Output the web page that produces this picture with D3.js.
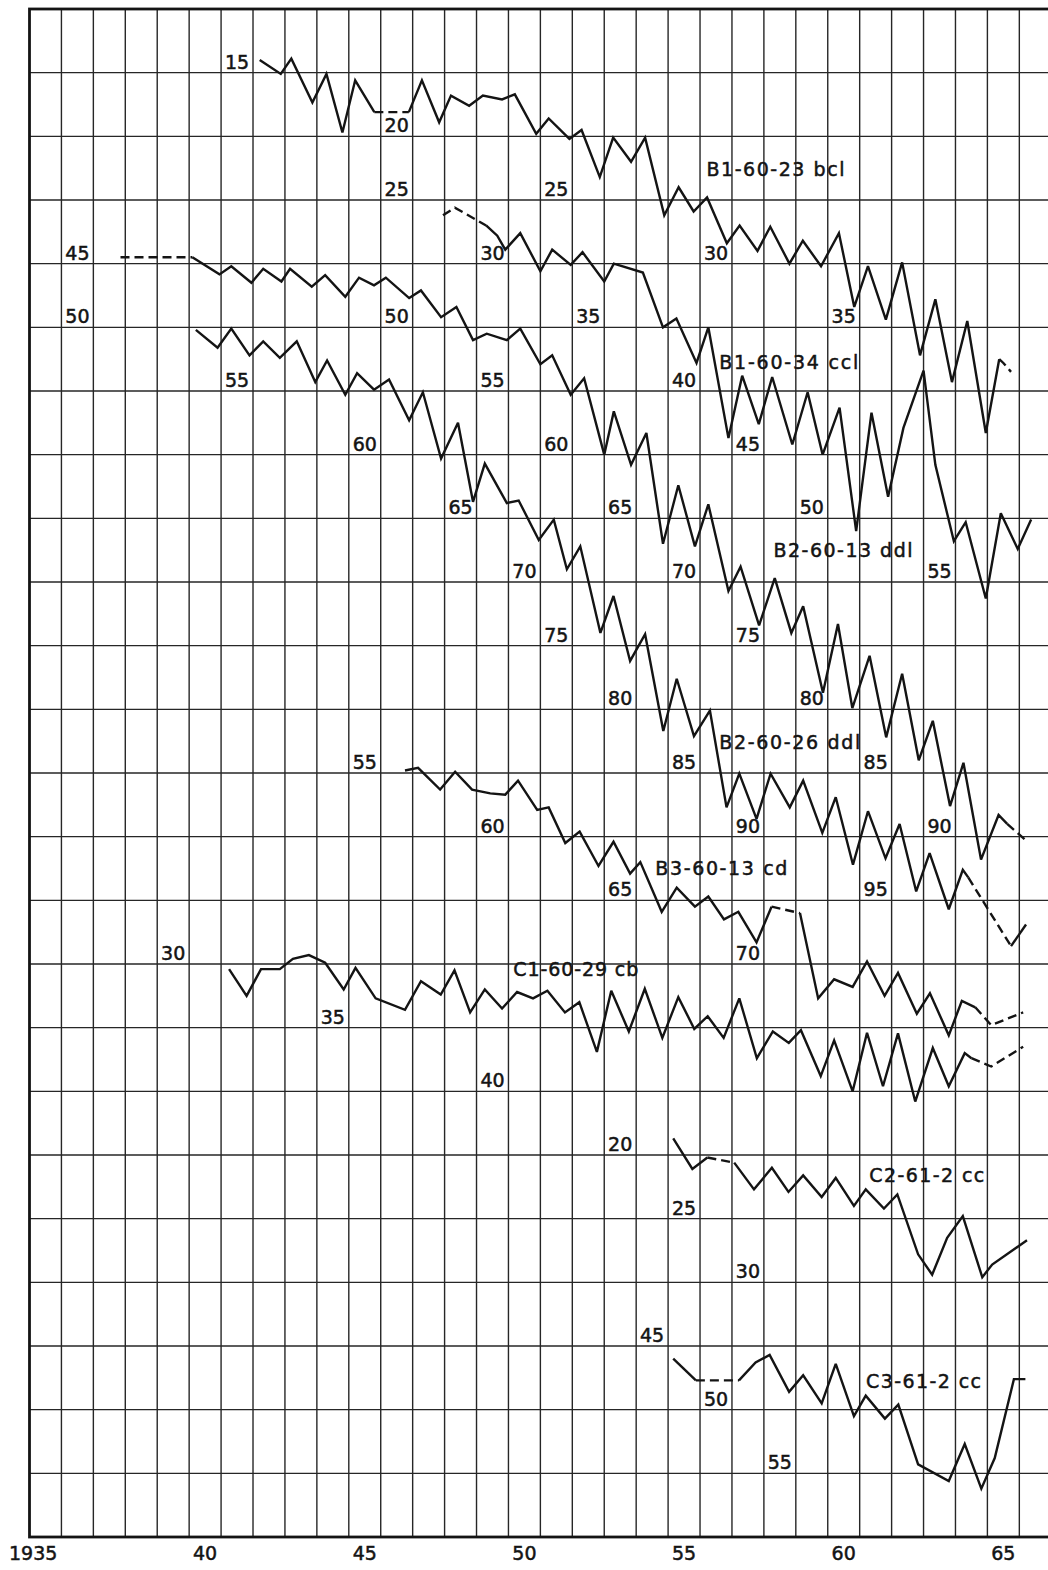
<!DOCTYPE html>
<html><head><meta charset="utf-8">
<script src="https://cdn.jsdelivr.net/npm/d3@7"></script>
<style>html,body{margin:0;padding:0;background:#fff}</style>
</head><body>
<script>
// ---------- DATA ----------
const yearStart = 1935, yearEnd = 1967;
const axisLabels = [[1935,"1935"],[1940,"40"],[1945,"45"],[1950,"50"],[1955,"55"],[1960,"60"],[1965,"65"]];
const seriesNames = ["B1-60-23 bcl","B1-60-34 ccl","B2-60-13 ddl","B2-60-26 ddl","B3-60-13 cd","C1-60-29 cb","C2-61-2 cc","C3-61-2 cc"];
// value shown at the top edge of the grid for each series (each grid row = 5 units)
const seriesTop = [10,10,25,25,-5,-45,-70,-60];

const sA = [[1942.21,14.0],[1942.87,15.1],[1943.2,13.9],[1943.86,17.35],[1944.3,15.1],[1944.8,19.7],[1945.2,15.6],[1945.8,18.1],[1946.88,18.1],[1947.29,15.6],[1947.83,18.9],[1948.2,16.8],[1948.77,17.6],[1949.2,16.8],[1949.8,17.1],[1950.2,16.7],[1950.87,19.8],[1951.26,18.6],[1951.91,20.2],[1952.29,19.5],[1952.86,23.2],[1953.28,20.1],[1953.84,22.0],[1954.28,20.1],[1954.88,26.2],[1955.33,24.0],[1955.8,25.9],[1956.22,24.8],[1956.84,28.4],[1957.24,27.0],[1957.8,29.0],[1958.2,27.1],[1958.8,30.0],[1959.22,28.2],[1959.79,30.2],[1960.35,27.6],[1960.83,33.4],[1961.26,30.2],[1961.82,34.4],[1962.33,29.9],[1962.89,37.2],[1963.37,32.8],[1963.89,39.3],[1964.37,34.5],[1964.95,43.3],[1965.37,37.5],[1965.5,37.8],[1965.74,38.5]];
const sB = [[1947.95,26.2],[1948.32,25.6],[1949.3,27.0],[1949.65,27.8],[1949.9,28.9],[1950.37,27.6],[1951.0,30.6],[1951.37,28.9],[1951.95,30.1],[1952.32,29.1],[1953.0,31.4],[1953.3,30.0],[1954.21,30.7],[1954.84,35.0],[1955.26,34.3],[1955.89,37.8],[1956.26,35.0],[1956.89,43.7],[1957.32,38.8],[1957.84,42.6],[1958.26,38.9],[1958.89,44.2],[1959.37,40.1],[1959.84,45.0],[1960.37,41.3],[1960.89,51.0],[1961.37,41.7],[1961.89,48.3],[1962.37,42.9],[1963.0,38.4],[1963.37,45.8],[1963.95,51.8],[1964.32,50.3],[1964.95,56.3],[1965.42,49.6],[1965.95,52.4],[1966.37,50.1]];
const sC = [[1937.85,44.5],[1940.1,44.5],[1940.95,45.84],[1941.32,45.2],[1941.95,46.5],[1942.32,45.4],[1942.89,46.4],[1943.16,45.4],[1943.84,46.8],[1944.26,45.9],[1944.89,47.6],[1945.32,46.1],[1945.79,46.7],[1946.16,46.1],[1946.89,47.7],[1947.26,47.1],[1947.89,49.2],[1948.37,48.4],[1948.89,51.0],[1949.32,50.5],[1949.95,51.0],[1950.37,50.1],[1951.0,52.9],[1951.37,52.2],[1951.95,55.3],[1952.37,54.0],[1953.0,60.0],[1953.3,56.6],[1953.84,60.8],[1954.32,58.3],[1954.84,67.0],[1955.32,62.4],[1955.84,67.2],[1956.26,63.9],[1956.89,70.7],[1957.27,68.8],[1957.85,73.4],[1958.34,69.7],[1958.86,74.0],[1959.23,71.9],[1959.85,78.7],[1960.32,73.3],[1960.77,79.9],[1961.31,75.8],[1961.83,82.2],[1962.33,77.2],[1962.85,84.0],[1963.29,80.9],[1963.83,87.6],[1964.25,84.2],[1964.8,91.8],[1965.35,88.3],[1965.62,89.0],[1966.21,90.3]];
const sD = [[1940.21,50.2],[1940.89,51.6],[1941.32,50.1],[1941.89,52.2],[1942.32,51.1],[1942.84,52.4],[1943.37,51.1],[1943.95,54.3],[1944.32,52.6],[1944.89,55.3],[1945.26,53.6],[1945.79,54.9],[1946.26,54.1],[1946.89,57.3],[1947.32,55.1],[1947.89,60.3],[1948.42,57.5],[1948.89,63.7],[1949.26,60.7],[1949.95,63.8],[1950.32,63.6],[1950.95,66.7],[1951.42,65.1],[1951.83,69.0],[1952.25,67.2],[1952.88,74.0],[1953.29,71.1],[1953.81,76.2],[1954.28,74.1],[1954.85,81.7],[1955.27,77.6],[1955.81,82.1],[1956.31,80.1],[1956.83,87.7],[1957.23,85.05],[1957.77,88.6],[1958.21,85.05],[1958.81,87.7],[1959.23,85.6],[1959.83,89.7],[1960.25,86.9],[1960.79,92.2],[1961.26,88.0],[1961.81,91.7],[1962.25,89.0],[1962.77,94.3],[1963.19,91.3],[1963.79,95.7],[1964.23,92.6],[1964.4,93.2],[1965.74,98.6],[1966.21,96.9]];
const sE = [[1946.76,54.8],[1947.17,54.6],[1947.86,56.3],[1948.33,54.9],[1948.86,56.3],[1949.43,56.6],[1949.9,56.7],[1950.3,55.6],[1950.9,57.9],[1951.26,57.7],[1951.78,60.5],[1952.23,59.6],[1952.82,62.3],[1953.29,60.4],[1953.81,62.9],[1954.13,62.0],[1954.8,65.9],[1955.27,64.0],[1955.84,65.5],[1956.26,64.7],[1956.75,66.5],[1957.2,65.9],[1957.77,68.3],[1958.24,65.5],[1959.13,66.0],[1959.7,72.7],[1960.2,71.2],[1960.78,71.8],[1961.23,69.8],[1961.78,72.5],[1962.2,70.7],[1962.79,73.9],[1963.2,72.3],[1963.79,75.6],[1964.2,72.9],[1964.62,73.4],[1965.12,74.8],[1966.12,73.8]];
const sF = [[1941.25,30.4],[1941.8,32.5],[1942.25,30.4],[1942.84,30.4],[1943.25,29.6],[1943.75,29.3],[1944.26,29.9],[1944.84,32.0],[1945.21,30.3],[1945.84,32.7],[1946.76,33.6],[1947.26,31.35],[1947.88,32.4],[1948.31,30.5],[1948.8,33.8],[1949.26,32.0],[1949.8,33.5],[1950.27,32.2],[1950.77,32.7],[1951.22,32.1],[1951.77,33.8],[1952.22,33.0],[1952.77,36.9],[1953.22,32.1],[1953.77,35.3],[1954.27,31.95],[1954.82,35.8],[1955.32,32.6],[1955.82,35.1],[1956.24,34.1],[1956.74,35.8],[1957.23,32.7],[1957.78,37.4],[1958.28,35.3],[1958.78,36.2],[1959.16,35.2],[1959.78,38.8],[1960.2,36.0],[1960.78,40.0],[1961.23,35.4],[1961.73,39.6],[1962.2,35.45],[1962.74,40.8],[1963.29,36.6],[1963.79,39.6],[1964.29,37.0],[1964.5,37.4],[1965.12,38.05],[1966.12,36.5]];
const sG = [[1955.16,18.7],[1955.76,21.1],[1956.23,20.2],[1957.07,20.6],[1957.69,22.7],[1958.25,21.0],[1958.77,22.9],[1959.23,21.6],[1959.81,23.3],[1960.25,21.8],[1960.82,24.0],[1961.19,22.7],[1961.76,24.2],[1962.18,23.1],[1962.83,27.8],[1963.27,29.4],[1963.74,26.5],[1964.23,24.8],[1964.84,29.6],[1965.15,28.6],[1966.24,26.7]];
const sH = [[1955.16,46.0],[1955.87,47.7],[1957.22,47.7],[1957.74,46.3],[1958.18,45.7],[1958.79,48.6],[1959.23,47.3],[1959.81,49.5],[1960.25,46.4],[1960.82,50.5],[1961.19,48.9],[1961.79,50.7],[1962.21,49.6],[1962.83,54.3],[1963.79,55.6],[1964.29,52.7],[1964.81,56.2],[1965.23,53.8],[1965.83,47.6],[1966.19,47.6]];

// year ranges drawn dashed (estimated / missing years)
const dashA = [[1945.8,1946.88],[1965.37,1965.74]];
const dashB = [[1947.95,1949.3]];
const dashC = [[1937.85,1940.1],[1965.62,1966.21]];
const dashD = [[1964.4,1965.74]];
const dashE = [[1958.24,1959.13],[1964.62,1966.12]];
const dashF = [[1964.5,1966.12]];
const dashG = [[1956.23,1957.07]];
const dashH = [[1955.87,1957.22]];

// value scale labels along each series: [year column, value]
const lblA = [[1941,15],[1946,20],[1946,25],[1951,25],[1956,30],[1960,35]];
const lblB = [[1949,30],[1952,35],[1955,40],[1957,45],[1959,50],[1963,55]];
const lblC = [[1936,45],[1946,50],[1949,55],[1951,60],[1953,65],[1955,70],[1957,75],[1959,80],[1961,85],[1963,90]];
const lblD = [[1936,50],[1941,55],[1945,60],[1948,65],[1950,70],[1951,75],[1953,80],[1955,85],[1957,90],[1961,95]];
const lblE = [[1945,55],[1949,60],[1953,65],[1957,70]];
const lblF = [[1939,30],[1944,35],[1949,40]];
const lblG = [[1953,20],[1955,25],[1957,30]];
const lblH = [[1954,45],[1956,50],[1958,55]];

// series name anchors: [year, value]
const nameAt = [[1956.2,22.6],[1956.6,37.7],[1958.3,67.5],[1956.6,82.6],[1954.6,62.5],[1950.15,30.4],[1961.3,21.6],[1961.2,47.8]];

// ---------- LAYOUT ----------
(function () {
const W = 1048, H = 1570;
const padLeft = 29.5, colW = 31.93, gTop = 9, gBottom = 1537;
const rowsUnits = 120; // 24 rows * 5 units
const ink = "#141414";
const font = "'DejaVu Sans', sans-serif";
const nameWidths = [138, 139, 139, 141, 132, 125, 115, 115];

const svg = d3.select("body").append("svg").attr("width", W).attr("height", H)
  .style("background", "#fff").style("display", "block");

const x = d3.scaleLinear().domain([yearStart, yearEnd]).range([padLeft, padLeft + (yearEnd - yearStart) * colW]);
const yBase = d3.scaleLinear().domain([0, rowsUnits]).range([gTop, gBottom]);

const series = [sA,sB,sC,sD,sE,sF,sG,sH].map((pts, i) => ({
  name: seriesNames[i],
  pts,
  dash: [dashA,dashB,dashC,dashD,dashE,dashF,dashG,dashH][i],
  lbl: [lblA,lblB,lblC,lblD,lblE,lblF,lblG,lblH][i],
  y: d3.scaleLinear().domain([seriesTop[i], seriesTop[i] + rowsUnits]).range([gTop, gBottom]),
  nameAt: nameAt[i],
  nameW: nameWidths[i]
}));

// grid
const g = svg.append("g");
g.selectAll("line.v").data(d3.range(yearStart + 1, yearEnd)).join("line").attr("class", "v")
  .attr("x1", d => x(d)).attr("x2", d => x(d)).attr("y1", gTop).attr("y2", gBottom)
  .attr("stroke", "#262626").attr("stroke-width", 1.4);
g.selectAll("line.h").data(d3.range(5, rowsUnits, 5)).join("line").attr("class", "h")
  .attr("x1", padLeft).attr("x2", W + 10).attr("y1", d => yBase(d)).attr("y2", d => yBase(d))
  .attr("stroke", "#262626").attr("stroke-width", 1.4);
g.append("rect").attr("x", x(yearStart)).attr("y", gTop)
  .attr("width", x(yearEnd) - x(yearStart)).attr("height", gBottom - gTop)
  .attr("fill", "none").attr("stroke", ink).attr("stroke-width", 2.8);

// axis labels
svg.append("g").selectAll("text").data(axisLabels).join("text")
  .attr("x", (d, i) => i === 0 ? 9 : x(d[0] + 0.5))
  .attr("y", gBottom + 16).attr("dy", "0.36em")
  .attr("text-anchor", (d, i) => i === 0 ? "start" : "middle")
  .attr("font-family", font).attr("font-size", 19).attr("fill", ink)
  .attr("stroke", ink).attr("stroke-width", 0.5)
  .text(d => d[1]);

// series lines
const line = d3.line();
series.forEach(s => {
  const isDash = (a, b) => s.dash.some(r => a >= r[0] - 1e-6 && b <= r[1] + 1e-6);
  const runs = [];
  for (let i = 0; i < s.pts.length - 1; i++) {
    const d = isDash(s.pts[i][0], s.pts[i + 1][0]);
    const last = runs[runs.length - 1];
    if (last && last.dashed === d) last.pts.push(s.pts[i + 1]);
    else runs.push({ dashed: d, pts: [s.pts[i], s.pts[i + 1]] });
  }
  const sg = svg.append("g");
  sg.selectAll("path").data(runs).join("path")
    .attr("d", r => line(r.pts.map(p => [x(p[0]), s.y(p[1])])))
    .attr("fill", "none").attr("stroke", ink).attr("stroke-width", 2.4)
    .attr("stroke-linejoin", "miter").attr("stroke-miterlimit", 3)
    .attr("stroke-dasharray", r => r.dashed ? "9,5" : null);

  sg.selectAll("text.lbl").data(s.lbl).join("text").attr("class", "lbl")
    .attr("x", d => x(d[0] + 0.5)).attr("y", d => s.y(d[1]) - 11).attr("dy", "0.36em")
    .attr("text-anchor", "middle").attr("font-family", font).attr("font-size", 19)
    .attr("fill", ink).attr("stroke", ink).attr("stroke-width", 0.5)
    .text(d => d[1]);

  sg.append("text")
    .attr("x", x(s.nameAt[0])).attr("y", s.y(s.nameAt[1])).attr("dy", "0.36em")
    .attr("font-family", font).attr("font-size", 19).attr("fill", ink)
    .attr("stroke", ink).attr("stroke-width", 0.5)
    .attr("textLength", s.nameW).attr("lengthAdjust", "spacing")
    .text(s.name);
});
})();
</script>
</body></html>
